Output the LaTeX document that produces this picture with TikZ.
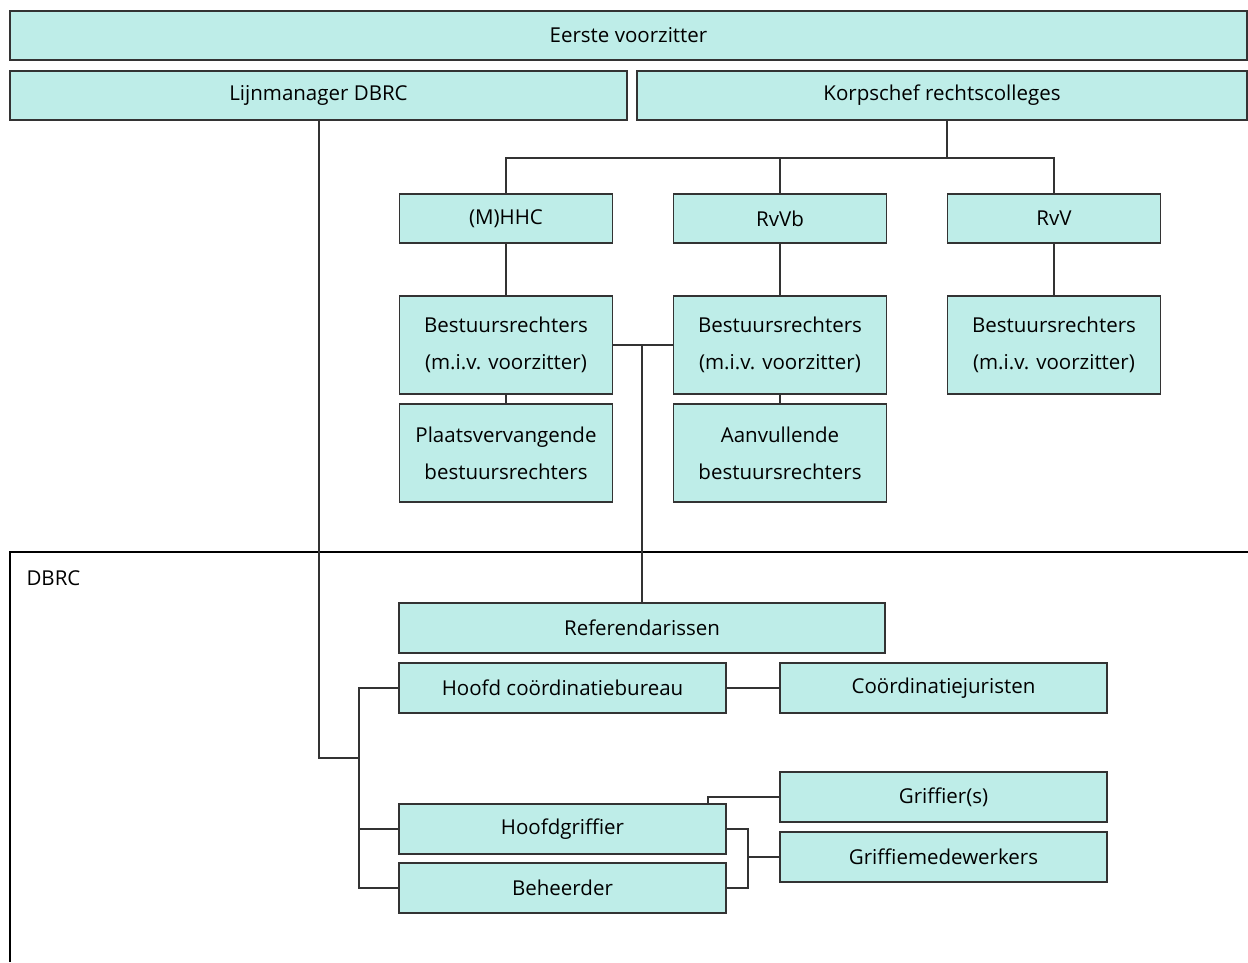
\documentclass[tikz,border=0pt]{standalone}
\usepackage{fontspec}
\setmainfont{Open Sans}
\usetikzlibrary{positioning}
\usetikzlibrary{calc}

\definecolor{boxfill}{RGB}{190,237,232}
\definecolor{boxline}{RGB}{51,51,51}

\tikzset{
    orgbox/.style={draw=boxline, fill=boxfill, line width=1.3pt, inner sep=0pt, outer sep=0pt,
        align=center, font=\fontsize{20.5}{37}\selectfont},
    link/.style={draw=boxline, line width=1.3pt},
}

\begin{document}
\begin{tikzpicture}[x=1pt, y=1pt]
    \useasboundingbox (0,0) rectangle (1248,-962);

    % DBRC frame
    \draw[line width=2pt, black] (10,-962) |- (1248,-552);
    \node[anchor=west, font=\fontsize{20.5}{23}\selectfont] (dbrc) at (23,-578) {DBRC};

    \node[orgbox, minimum width=1237, minimum height=49] (eerste) at (628.5,-35.5) {Eerste voorzitter};
    \node[orgbox, minimum width=617, minimum height=49] (lijnman) at (318.5,-95.5) {Lijnmanager DBRC};
    \node[orgbox, minimum width=610, minimum height=49] (korps) at (942,-95.5) {Korpschef rechtscolleges};

    \node[orgbox, minimum width=213, minimum height=49] (mhhc) at (506,-218.5) {(M)HHC};
    \node[orgbox, minimum width=213, minimum height=49, right=61 of mhhc] (rvvb) {RvVb};
    \node[orgbox, minimum width=213, minimum height=49, right=61 of rvvb] (rvv) {RvV};

    \node[orgbox, minimum width=213, minimum height=98, below=53 of mhhc] (br1) {Bestuursrechters\\(m.i.v. voorzitter)};
    \node[orgbox, minimum width=213, minimum height=98, below=53 of rvvb] (br2) {Bestuursrechters\\(m.i.v. voorzitter)};
    \node[orgbox, minimum width=213, minimum height=98, below=53 of rvv] (br3) {Bestuursrechters\\(m.i.v. voorzitter)};

    \node[orgbox, minimum width=213, minimum height=98, below=10 of br1] (plaats) {Plaatsvervangende\\bestuursrechters};
    \node[orgbox, minimum width=213, minimum height=98, below=10 of br2] (aanv) {Aanvullende\\bestuursrechters};

    \node[orgbox, minimum width=486, minimum height=50] (refer) at (642,-628) {Referendarissen};
    \node[orgbox, minimum width=327, minimum height=50] (hoofdcoord) at (562.5,-688) {Hoofd coördinatiebureau};
    \node[orgbox, minimum width=327, minimum height=50] (coordjur) at (943.5,-688) {Coördinatiejuristen};

    \node[orgbox, minimum width=327, minimum height=50] (griffier) at (943.5,-797) {Griffier(s)};
    \node[orgbox, minimum width=327, minimum height=50] (medew) at (943.5,-857) {Griffiemedewerkers};
    \node[orgbox, minimum width=327, minimum height=50] (hoofdgr) at (562.5,-829) {Hoofdgriffier};
    \node[orgbox, minimum width=327, minimum height=50] (beheer) at (562.5,-888) {Beheerder};

    % bus points
    \coordinate (kbus) at (947,-158);
    \coordinate (brbus) at (642,-345);
    \coordinate (lbus) at (359,-758);
    \coordinate (gbus) at (748,-857);

    \draw[link] (korps.south -| kbus) -- (kbus);
    \draw[link] (mhhc.north) |- (kbus) -| (rvv.north);
    \draw[link] (rvvb.north) -- (rvvb.north |- kbus);

    \draw[link] (mhhc) -- (br1);
    \draw[link] (rvvb) -- (br2);
    \draw[link] (rvv) -- (br3);
    \draw[link] (br1) -- (plaats);
    \draw[link] (br2) -- (aanv);

    \draw[link] (br1.east) -- (br2.west);
    \draw[link] (brbus) -- (refer.north);

    \draw[link] ([xshift=0.5pt]lijnman.south) |- (lbus);
    \draw[link] (hoofdcoord.west) -| (lbus) |- (beheer.west);
    \draw[link] (lbus |- hoofdgr.west) -- (hoofdgr.west);
    \draw[link] (hoofdcoord) -- (coordjur);

    \draw[link] ([xshift=-18pt]hoofdgr.north east) |- (griffier.west);
    \draw[link] (hoofdgr.east) -| (gbus) |- (beheer.east);
    \draw[link] (gbus) -- (medew.west);
\end{tikzpicture}
\end{document}
